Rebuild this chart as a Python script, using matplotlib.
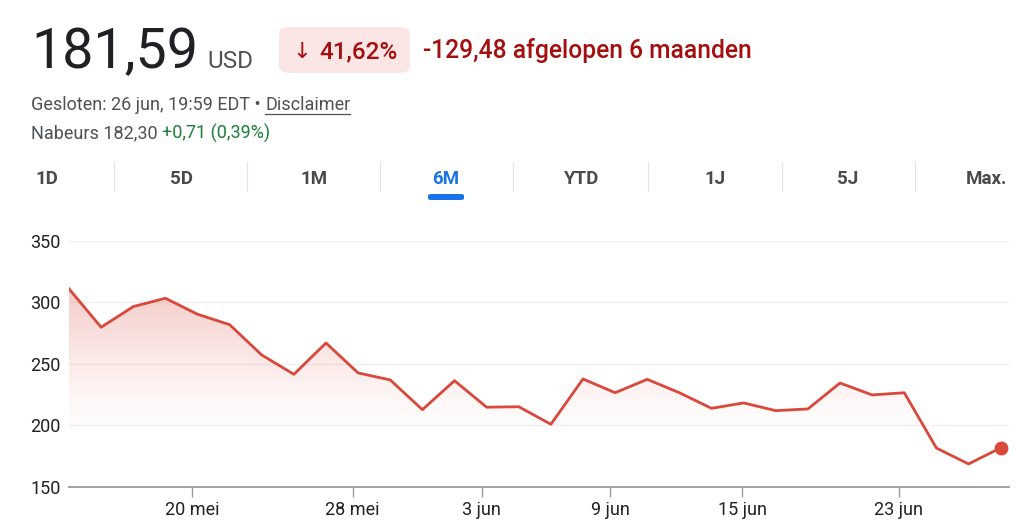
import numpy as np
import matplotlib
matplotlib.use("Agg")
import matplotlib.pyplot as plt
from matplotlib.patches import FancyBboxPatch
from matplotlib.lines import Line2D

# ---------------- data ----------------
prices = [311.07, 279.8, 296.6, 303.4, 290.4, 281.9, 257.2, 241.5, 267.0, 242.6,
          236.9, 212.7, 236.3, 214.7, 215.1, 200.8, 237.7, 226.5, 237.4, 226.5,
          213.8, 218.2, 211.9, 213.3, 234.4, 224.7, 226.5, 181.5, 168.5, 181.59]
tick_labels = ["20 mei", "28 mei", "3 jun", "9 jun", "15 jun", "23 jun"]
tick_pos = [3.83, 8.83, 12.85, 16.84, 20.95, 25.83]
y_ticks = [150, 200, 250, 300, 350]
tabs = ["1D", "5D", "1M", "6M", "YTD", "1J", "5J", "Max."]
active_tab = "6M"

price_text = "181,59"
currency = "USD"
pct_text = "41,62%"
change_text = "-129,48 afgelopen 6 maanden"
closed_text = "Gesloten: 26 jun, 19:59 EDT • "
disclaimer = "Disclaimer"
after_label = "Nabeurs 182,30 "
after_change = "+0,71 (0,39%)"

# ---------------- style ----------------
W, H = 1024, 531
RED = "#d9483b"
DARKRED = "#a50e0e"
FONT = ["Roboto", "DejaVu Sans"]
plt.rcParams["font.family"] = FONT

fig = plt.figure(figsize=(W / 100, H / 100), dpi=100)
fig.patch.set_facecolor("white")

def fx(x):
    return x / W

def fy(y):
    return 1 - y / H

# ---------------- header ----------------
fig.text(fx(31), fy(68.5), price_text, fontsize=40, color="#202124", va="baseline", ha="left")
fig.text(fx(207), fy(68.5), currency, fontsize=17.5, color="#4d5156", va="baseline", ha="left")

box = FancyBboxPatch((fx(279), fy(73)), fx(410 - 279), (73 - 27) / H,
                     boxstyle="round,pad=0,rounding_size=0.012",
                     transform=fig.transFigure, facecolor="#fbe6e5", edgecolor="none")
fig.patches.append(box)
fig.text(fx(292), fy(58.3), "↓", fontsize=16, color=DARKRED, va="baseline", ha="left",
         family=["DejaVu Sans"])
fig.text(fx(319), fy(58.3), pct_text, fontsize=17.5, color=DARKRED, va="baseline", ha="left",
         fontweight="medium")
fig.text(fx(423), fy(58.3), change_text, fontsize=17.7, color=DARKRED, va="baseline", ha="left",
         fontweight="medium")

SMALL = 13
t1 = fig.text(fx(31), fy(110), closed_text, fontsize=SMALL, color="#4d5156", va="baseline", ha="left")
fig.canvas.draw()
r = fig.canvas.get_renderer()
bb = t1.get_window_extent(renderer=r)
t2 = fig.text(bb.x1 / W, fy(110), disclaimer, fontsize=SMALL, color="#4d5156", va="baseline", ha="left")
bb2 = t2.get_window_extent(renderer=r)
fig.lines.append(Line2D([bb2.x0 / W, bb2.x1 / W], [fy(113.5), fy(113.5)],
                        transform=fig.transFigure, color="#4d5156", lw=0.9))

t3 = fig.text(fx(31), fy(138.3), after_label, fontsize=SMALL, color="#4d5156", va="baseline", ha="left")
bb3 = t3.get_window_extent(renderer=r)
fig.text(bb3.x1 / W, fy(138.3), after_change, fontsize=SMALL, color="#188038", va="baseline", ha="left")

# ---------------- tabs ----------------
tab_centers = [47, 181, 314, 446, 581, 715, 848, 986]
seps = [114, 247, 380, 513, 648, 782, 915]
for c, lab in zip(tab_centers, tabs):
    active = lab == active_tab
    fig.text(fx(c), fy(184.3), lab, fontsize=13.5, fontweight="bold",
             color="#1a73e8" if active else "#4a4a4a", ha="center", va="baseline")
    if active:
        ul = FancyBboxPatch((fx(c - 18), fy(200)), 36 / W, 6 / H,
                            boxstyle="round,pad=0,rounding_size=0.003",
                            transform=fig.transFigure, facecolor="#1a73e8", edgecolor="none")
        fig.patches.append(ul)
for s in seps:
    fig.lines.append(Line2D([fx(s), fx(s)], [fy(162), fy(191)], transform=fig.transFigure,
                            color="#e3e3e3", lw=0.8))

# ---------------- chart ----------------
left, right = 69, 1009
top, bottom = 241, 486.7
ax = fig.add_axes([fx(left), fy(bottom), (right - left) / W, (bottom - top) / H])
x = np.arange(len(prices))
ax.set_xlim(0, 29.26)
ax.set_ylim(150, 350)

for yv in y_ticks[1:]:
    ax.axhline(yv, color="#f6eded", lw=0.9, zorder=1)

# gradient fill under the line
poly = ax.fill_between(x, prices, 150, color="none", lw=0)
ymax = max(prices)
grad = np.linspace(0, 1, 256).reshape(-1, 1)
alpha = np.clip((grad - 0.25) / 0.75, 0, 1) ** 1.3 * 0.28
rgba = np.zeros((256, 1, 4))
rgba[..., 0] = 0.85
rgba[..., 1] = 0.28
rgba[..., 2] = 0.23
rgba[..., 3] = alpha
im = ax.imshow(rgba, extent=[0, len(prices) - 1, 150, ymax], origin="lower",
               aspect="auto", zorder=2, interpolation="bilinear")
path = poly.get_paths()[0]
im.set_clip_path(path, transform=ax.transData)

ax.plot(x, prices, color=RED, lw=2.0, zorder=3, solid_joinstyle="round")
ax.plot(x[-1], prices[-1], "o", color=RED, ms=9, zorder=4)

for sp in ["top", "right", "left"]:
    ax.spines[sp].set_visible(False)
ax.spines["bottom"].set_color("#9a9a9a")
ax.spines["bottom"].set_linewidth(1.3)

ax.set_yticks(y_ticks)
ax.set_yticklabels([str(v) for v in y_ticks])
ax.tick_params(axis="y", length=0, pad=6, labelsize=13, labelcolor="#202124")
ax.set_xticks(tick_pos)
ax.set_xticklabels(tick_labels)
ax.tick_params(axis="x", length=7, width=1, color="#9a9a9a", pad=3, labelsize=13,
               labelcolor="#202124")

fig.savefig("out.png", dpi=100, facecolor="white")
